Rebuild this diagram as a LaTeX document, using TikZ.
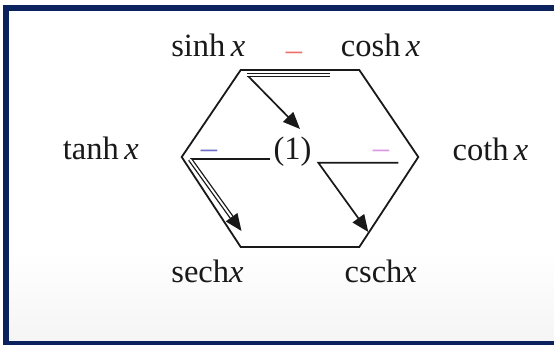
\documentclass[tikz,border=0pt]{standalone}
\usepackage{fontspec}
\setmainfont{Liberation Serif}
\usetikzlibrary{arrows.meta,calc}
\definecolor{navy}{RGB}{10,35,95}
\definecolor{ink}{RGB}{25,25,25}
\definecolor{redm}{RGB}{240,110,110}
\definecolor{bluem}{RGB}{110,110,200}
\definecolor{pinkm}{RGB}{220,150,230}
\begin{document}
\begin{tikzpicture}[x=1pt,y=-1pt,
  lbl/.style={inner sep=0pt, anchor=base, text=ink, font=\fontsize{32.5}{39}\selectfont},
  edge/.style={line width=1.8pt, draw=ink},
  arr/.style={line width=1.7pt, draw=ink, -{Triangle[length=17pt,width=14pt]}},
  dbl/.style={line width=1.3pt, draw=ink, double=white, double distance=1.9pt}]
\useasboundingbox (0,0) rectangle (554,345);
\fill[white] (0,0) rectangle (554,345);
\shade[top color=white, bottom color=black!4] (9,250) rectangle (554,341);
% frame
\fill[navy] (3,5) rectangle (9,345);
\fill[navy] (3,5) rectangle (554,11);
\fill[navy] (3,341) rectangle (554,345);
% hexagon
\coordinate (TL) at (240.7,70);
\coordinate (TR) at (359.3,70);
\coordinate (R) at (418.3,157);
\coordinate (BR) at (359.3,247);
\coordinate (BL) at (240.7,247);
\coordinate (L) at (181.7,157);
\draw[edge, line join=miter] (TL) -- (TR) -- (R) -- (BR) -- (BL) -- (L) -- cycle;
% labels
\node[lbl] (sinh) at (208.3,57) {sinh\,\textit{x}};
\node[lbl] (cosh) at (380.7,57) {cosh\,\textit{x}};
\node[lbl] (tanh) at (100.8,159) {tanh\,\textit{x}};
\node[lbl] (coth) at (490.5,160) {coth\,\textit{x}};
\node[lbl] (sech) at (207.5,282) {sech\textit{x}};
\node[lbl] (csch) at (380.8,282) {csch\textit{x}};
\node[lbl] (one) at (292.5,159) {(1)};
\node[lbl, text=redm] (m1) at (294,60) {–};
\node[lbl, text=bluem] (m2) at (209,158) {–};
\node[lbl, text=pinkm] (m3) at (381,158) {–};
% top arrow
\coordinate (a1s) at (330,75);
\coordinate (a1k) at (247,75);
\coordinate (a1b) at (248.5,76.5);
\coordinate (a1t) at (300,129);
\draw[dbl] (a1s) -- (a1k);
\draw[arr] (a1b) -- (a1t);
% left arrow
\coordinate (a2s) at (270,159.3);
\coordinate (a2k) at (190,159.3);
\coordinate (a2t) at (241.5,231);
\draw[edge] (a2s) -- (a2k);
\draw[dbl, shorten >=14pt] (a2k) -- (a2t);
\draw[arr] ($(a2t)!17pt!(a2k)$) -- (a2t);
% right arrow
\coordinate (a3s) at (398.3,162.7);
\coordinate (a3k) at (318.3,162.7);
\coordinate (a3t) at (368.3,232);
\draw[arr, line join=miter] (a3s) -- (a3k) -- (a3t);
\end{tikzpicture}
\end{document}
